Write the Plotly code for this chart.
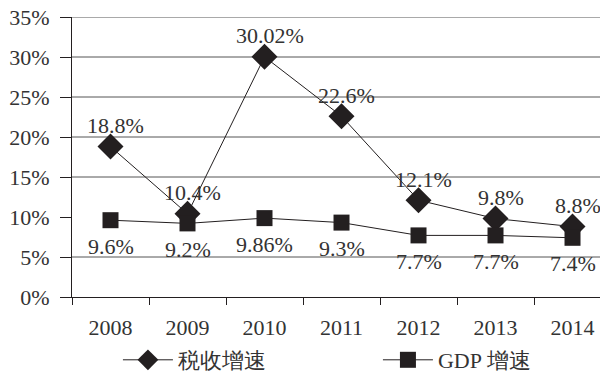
import plotly.graph_objects as go

years = ["2008", "2009", "2010", "2011", "2012", "2013", "2014"]
tax_growth = [18.8, 10.4, 30.02, 22.6, 12.1, 9.8, 8.8]
gdp_growth = [9.6, 9.2, 9.86, 9.3, 7.7, 7.7, 7.4]
tax_labels = ["18.8%", "10.4%", "30.02%", "22.6%", "12.1%", "9.8%", "8.8%"]
gdp_labels = ["9.6%", "9.2%", "9.86%", "9.3%", "7.7%", "7.7%", "7.4%"]
y_ticks = [0, 5, 10, 15, 20, 25, 30, 35]
y_ticktext = ["0%", "5%", "10%", "15%", "20%", "25%", "30%", "35%"]
grid_values = [5, 15, 20, 25, 30, 35]

FONT = "Liberation Serif"
INK = "#231f20"
FS = 22

fig = go.Figure()
fig.add_trace(go.Scatter(
    x=years, y=tax_growth, name="税收增速", mode="lines+markers",
    line=dict(color=INK, width=1),
    marker=dict(symbol="diamond", size=20, color=INK),
    legendwidth=195,
))
fig.add_trace(go.Scatter(
    x=years, y=gdp_growth, name="GDP 增速", mode="lines+markers",
    line=dict(color=INK, width=1),
    marker=dict(symbol="square", size=16, color=INK),
    legendwidth=120,
))

for i, (y, t) in enumerate(zip(tax_growth, tax_labels)):
    fig.add_annotation(x=i, y=y, xref="x", yref="y", text=t, showarrow=False,
                       yshift=21, xshift=5,
                       font=dict(family=FONT, size=FS, color="#333"))
for i, (y, t) in enumerate(zip(gdp_growth, gdp_labels)):
    fig.add_annotation(x=i, y=y, xref="x", yref="y", text=t, showarrow=False,
                       yshift=-26,
                       font=dict(family=FONT, size=FS, color="#333"))

for g in grid_values:
    fig.add_shape(type="line", xref="paper", yref="y", x0=0, x1=1, y0=g, y1=g,
                  line=dict(color="#555", width=1), layer="below")

fig.update_layout(
    width=600, height=372,
    margin=dict(l=72, r=0, t=17, b=75, autoexpand=False),
    paper_bgcolor="white", plot_bgcolor="white",
    font=dict(family=FONT, size=FS, color="#333"),
    showlegend=True,
    legend=dict(orientation="h", x=0.087, xanchor="left", y=-0.225, yanchor="middle",
                bgcolor="rgba(0,0,0,0)", itemwidth=50,
                font=dict(family=FONT, size=FS, color="#333")),
    xaxis=dict(type="category", range=[-0.5, 6.357], showgrid=False,
               showline=True, linecolor=INK, linewidth=1,
               ticks="outside", tickson="boundaries", ticklen=7, tickcolor=INK,
               ticklabelstandoff=11),
    yaxis=dict(range=[0, 35], tickvals=y_ticks, ticktext=y_ticktext, showgrid=False,
               showline=True, linecolor=INK, linewidth=1, zeroline=False,
               ticks="outside", ticklen=11, tickcolor=INK, ticklabelstandoff=6),
)

fig.write_html("out.html")
